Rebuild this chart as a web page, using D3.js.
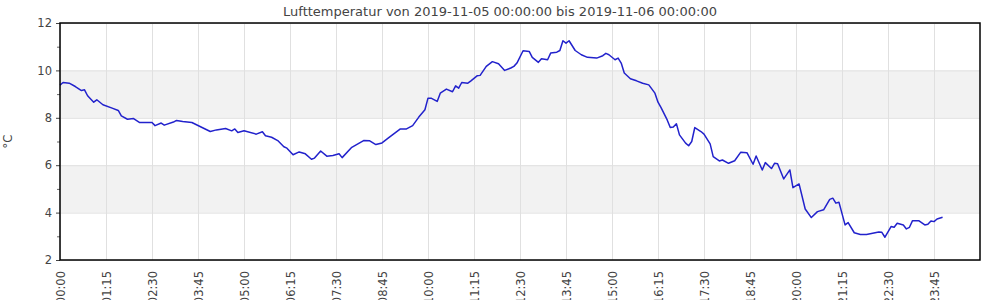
<!DOCTYPE html>
<html>
<head>
<meta charset="utf-8">
<script src="https://cdn.jsdelivr.net/npm/d3@7"></script>
<style>
  body { margin: 0; background: #fff; }
  text { font-family: "DejaVu Sans", sans-serif; fill: #444; }
</style>
</head>
<body>
<svg id="chart" width="1000" height="300"></svg>
<script>
// Lufttemperatur 2019-11-05, Werte
var times = ["00:00","00:05","00:15","00:25","00:35","00:40","00:45","00:55","01:00","01:10",
  "01:25","01:35","01:40","01:50","02:00","02:10","02:30","02:35","02:45","02:50",
  "03:05","03:10","03:20","03:35","03:50","04:05","04:15","04:30","04:40","04:45",
  "04:50","05:00","05:20","05:30","05:35","05:45","05:55","06:05","06:10","06:20",
  "06:30","06:40","06:50","06:55","07:05","07:15","07:25","07:35","07:40","07:55",
  "08:05","08:15","08:25","08:35","08:45","08:55","09:15","09:25","09:35","09:45",
  "09:55","10:00","10:05","10:15","10:20","10:30","10:40","10:45","10:50","10:55",
  "11:05","11:10","11:20","11:25","11:35","11:45","11:55","12:05","12:15","12:20",
  "12:25","12:35","12:45","12:50","13:00","13:05","13:15","13:20","13:30","13:35",
  "13:40","13:45","13:50","14:00","14:10","14:20","14:35","14:45","14:50","14:55",
  "15:05","15:10","15:15","15:20","15:30","15:40","15:50","16:00","16:10","16:15",
  "16:20","16:30","16:35","16:40","16:45","16:50","17:00","17:05","17:10","17:15",
  "17:25","17:30","17:40","17:45","17:55","18:00","18:10","18:20","18:30","18:40",
  "18:50","18:55","19:05","19:10","19:20","19:25","19:30","19:40","19:50","19:55",
  "20:05","20:15","20:25","20:35","20:45","20:55","21:00","21:05","21:10","21:20",
  "21:25","21:35","21:45","21:55","22:05","22:15","22:20","22:25","22:35","22:40",
  "22:45","22:55","23:00","23:05","23:10","23:20","23:30","23:35","23:40","23:45",
  "23:50","23:59"];
var temps = [9.38,9.49,9.46,9.32,9.15,9.18,8.93,8.66,8.76,8.55,
  8.41,8.31,8.08,7.94,7.97,7.80,7.80,7.67,7.78,7.69,
  7.82,7.89,7.84,7.80,7.61,7.42,7.49,7.55,7.45,7.53,
  7.38,7.45,7.31,7.41,7.24,7.18,7.04,6.78,6.72,6.44,
  6.56,6.48,6.25,6.30,6.60,6.38,6.41,6.48,6.32,6.74,
  6.89,7.04,7.03,6.87,6.94,7.14,7.53,7.53,7.67,8.03,
  8.34,8.83,8.83,8.69,9.04,9.21,9.10,9.35,9.25,9.49,
  9.46,9.56,9.77,9.79,10.17,10.37,10.28,10.0,10.10,10.17,
  10.31,10.83,10.80,10.55,10.34,10.49,10.45,10.73,10.77,10.84,
  11.25,11.15,11.25,10.84,10.66,10.55,10.52,10.62,10.72,10.66,
  10.45,10.52,10.31,9.89,9.65,9.56,9.46,9.39,9.04,8.66,
  8.43,7.91,7.59,7.61,7.75,7.28,6.93,6.82,7.00,7.59,
  7.42,7.31,6.90,6.36,6.18,6.22,6.08,6.19,6.55,6.53,
  6.04,6.39,5.80,6.11,5.86,6.08,6.06,5.42,5.80,5.05,
  5.21,4.15,3.79,4.04,4.12,4.56,4.61,4.40,4.44,3.48,
  3.58,3.15,3.08,3.08,3.13,3.18,3.17,2.96,3.41,3.38,
  3.55,3.48,3.31,3.38,3.66,3.66,3.48,3.51,3.65,3.62,
  3.73,3.80];
var yTicks = [2,4,6,8,10,12];
var yMinor = [3,5,7,9,11];
var bands = [[4,6],[8,10]];
var title = "Lufttemperatur von 2019-11-05 00:00:00 bis 2019-11-06 00:00:00";
var yLabel = "°C";

var margin = {top: 23, right: 20, bottom: 40, left: 60};
var width = 1000 - margin.left - margin.right;
var height = 300 - margin.top - margin.bottom;

var parseT = d3.timeParse("%Y-%m-%d %H:%M");
var day = "2019-11-05 ";
var data = times.map(function(t, i) { return {t: parseT(day + t), v: temps[i]}; });

var start = parseT(day + "00:00");
var x = d3.scaleTime()
    .domain([start, d3.timeMinute.offset(start, 1500)])
    .range([0, width]);
var y = d3.scaleLinear().domain([2, 12]).range([height, 0]);

var xTickVals = d3.range(0, 1440, 75).map(function(m) { return d3.timeMinute.offset(start, m); });

var svg = d3.select("#chart");

svg.append("text")
    .attr("x", 500).attr("y", 16)
    .attr("text-anchor", "middle")
    .style("font-size", "13px")
    .text(title);

var g = svg.append("g").attr("transform", "translate(" + margin.left + "," + margin.top + ")");

// alternating bands
g.selectAll("rect.band").data(bands).enter().append("rect")
    .attr("class", "band")
    .attr("x", 0).attr("width", width)
    .attr("y", function(d) { return y(d[1]); })
    .attr("height", function(d) { return y(d[0]) - y(d[1]); })
    .attr("fill", "#f2f2f2");

// grid
g.append("g")
    .call(d3.axisBottom(x).tickValues(xTickVals).tickSize(height).tickFormat(""))
    .call(function(s) { s.select(".domain").remove(); s.selectAll("line").attr("stroke", "#e0e0e0"); });
g.append("g")
    .call(d3.axisLeft(y).tickValues(yTicks).tickSize(-width).tickFormat(""))
    .call(function(s) { s.select(".domain").remove(); s.selectAll("line").attr("stroke", "#e0e0e0"); });

// line
var line = d3.line()
    .x(function(d) { return x(d.t); })
    .y(function(d) { return y(d.v); });
g.append("path")
    .datum(data)
    .attr("d", line)
    .attr("fill", "none")
    .attr("stroke", "#2222cc")
    .attr("stroke-width", 1.5)
    .attr("stroke-linejoin", "round");

// y axis
var yAxis = g.append("g")
    .call(d3.axisLeft(y).tickValues(yTicks).tickSize(4).tickPadding(4));
yAxis.select(".domain").remove();
yAxis.selectAll("text").style("font-size", "11.5px").attr("fill", "#444");
yAxis.selectAll("line").attr("stroke", "#444");
g.append("g")
    .call(d3.axisLeft(y).tickValues(yMinor).tickSize(3).tickFormat(""))
    .call(function(s) { s.select(".domain").remove(); s.selectAll("line").attr("stroke", "#666"); });

// x labels
var xAxis = g.append("g")
    .attr("transform", "translate(0," + height + ")")
    .call(d3.axisBottom(x).tickValues(xTickVals).tickSize(0).tickFormat(d3.timeFormat("%H:%M")));
xAxis.select(".domain").remove();
xAxis.selectAll("text")
    .style("font-size", "11.5px")
    .attr("fill", "#444")
    .attr("text-anchor", "end")
    .attr("transform", "rotate(-90)")
    .attr("x", -11)
    .attr("y", 0)
    .attr("dy", "0.35em");

// frame
g.append("rect")
    .attr("x", 0).attr("y", 0)
    .attr("width", width).attr("height", height)
    .attr("fill", "none")
    .attr("stroke", "#000")
    .attr("stroke-width", 1.5);

svg.append("text")
    .attr("transform", "translate(12," + (margin.top + height / 2) + ") rotate(-90)")
    .attr("text-anchor", "middle")
    .style("font-size", "11.5px")
    .text(yLabel);
</script>
</body>
</html>
